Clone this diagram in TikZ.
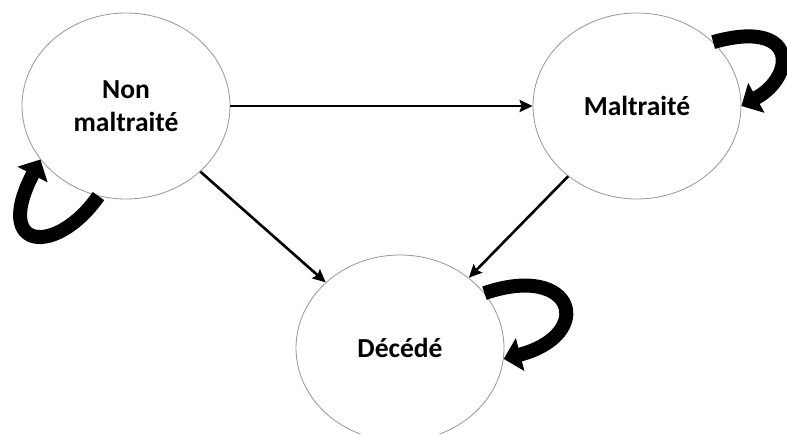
\documentclass[tikz,border=0pt]{standalone}
\usepackage{fontspec}
\setmainfont{Carlito}
\usepackage{tikz}
\usetikzlibrary{arrows,arrows.meta,shapes,positioning}
\definecolor{stategray}{RGB}{150,150,150}
\tikzstyle{state} = [ellipse, minimum width=208bp, minimum height=186bp, inner sep=0pt, draw=stategray, line width=0.8bp, align=center, font=\fontsize{27.5bp}{33.5bp}\selectfont\bfseries]
\tikzstyle{arrow} = [line width=2.6bp,->,>={Stealth[length=13bp,width=12bp,inset=2bp]},color=black]
\tikzstyle{selfloop} = [line width=14bp, -{Triangle[width=33bp,length=17bp]}, color=black]
\begin{document}
\begin{tikzpicture}[x=1bp,y=-1bp]
\useasboundingbox (0,0) rectangle (787,434);
% States
\node[state] (non) at (126,106) {Non\\maltraité};
\node[state] (mal) at (637,106) {Maltraité};
\node[state] (dec) at (400,348) {Décédé};

% Transitions
\draw[arrow] (non) -- (mal);
\draw[arrow] (non) -- (dec);
\draw[arrow] (mal) -- (dec);

% Loops
\draw[selfloop] (non.253) .. controls +(-42,60) and +(-48,92) .. (non.212);
\draw[selfloop] (mal.40) .. controls +(85,-24) and +(55,-30) .. (mal.east);
\draw[selfloop] (dec.33) .. controls +(91,-31) and +(92,-24) .. (dec.-6);
\end{tikzpicture}
\end{document}
